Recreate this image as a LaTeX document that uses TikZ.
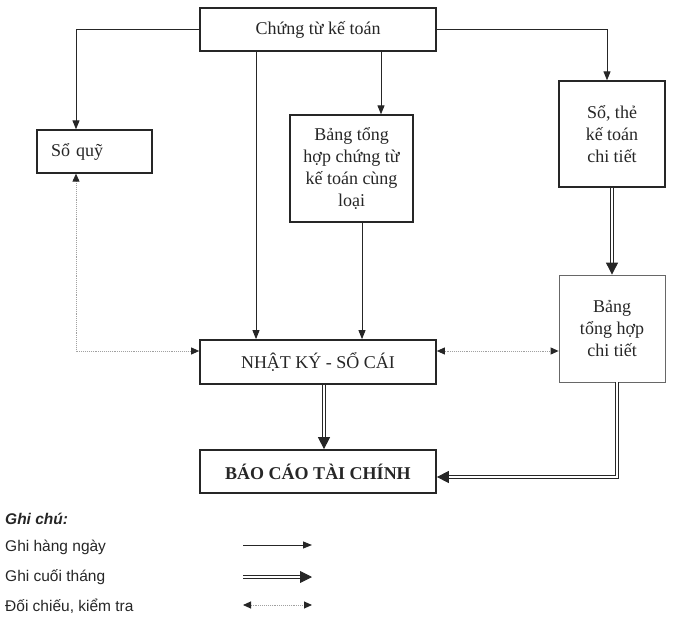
\documentclass[tikz,border=0pt]{standalone}
\usepackage{fontspec}
\setmainfont{Liberation Serif}
\newfontfamily\legendfont{Liberation Sans}
\usetikzlibrary{arrows.meta}
\definecolor{ink}{HTML}{262626}
\definecolor{dotgray}{HTML}{A0A0A0}
\tikzset{
  box/.style={draw=ink, line width=1.3pt, rectangle, inner sep=0pt, align=center,
    font=\fontsize{18}{22}\selectfont, text=ink},
  thinbox/.style={box, draw=ink!70, line width=0.8pt},
  daily/.style={draw=ink, line width=0.9pt, -{Triangle[length=9pt,width=7pt]}},
  monthly/.style={draw=ink, line width=0.9pt, double=white, double distance=1.6pt,
    -{Triangle[length=12pt,width=12pt]}},
  check/.style={draw=dotgray, line width=0.9pt, densely dotted,
    {Triangle[length=8pt,width=7pt,color=ink]}-{Triangle[length=8pt,width=7pt,color=ink]}},
  legtext/.style={anchor=west, inner sep=0pt, font=\legendfont\fontsize{15.5}{18}\selectfont, text=ink},
}
\begin{document}
\begin{tikzpicture}[x=1pt,y=-1pt]
\useasboundingbox (0,0) rectangle (688,626);
% nodes
\node[box, minimum width=236pt, minimum height=43pt] (ct) at (318,29.5) {Chứng từ kế toán};
\node[box, minimum width=115pt, minimum height=43pt, text width=87pt, align=left, inner xsep=14pt] (sq) at (94.5,151.5) {Sổ quỹ};
\node[box, minimum width=123pt, minimum height=107pt] (bt) at (351.5,168.5) {Bảng tổng\\hợp chứng từ\\kế toán cùng\\loại};
\node[box, minimum width=106pt, minimum height=106pt] (st) at (612,134) {Sổ, thẻ\\kế toán\\chi tiết};
\node[box, line width=1.7pt, minimum width=236pt, minimum height=44pt] (nk) at (318,362) {NHẬT KÝ - SỔ CÁI};
\node[thinbox, minimum width=106pt, minimum height=107pt] (bc) at (612,328.5) {Bảng\\tổng hợp\\chi tiết};
\node[box, line width=1.7pt, minimum width=236pt, minimum height=43pt, font=\fontsize{18}{22}\selectfont\bfseries] (tc) at (318,471.5) {BÁO CÁO TÀI CHÍNH};
% daily connectors
\draw[daily] (ct.west) -| ([xshift=-18.5pt]sq.north);
\draw[daily] (ct.east) -| ([xshift=-5pt]st.north);
\draw[daily] ([xshift=63pt]ct.south) -- ([xshift=63pt]ct.south |- bt.north);
\draw[daily] ([xshift=-62pt]ct.south) -- ([xshift=-62pt]nk.north);
\draw[daily] ([xshift=10.5pt]bt.south) -- ([xshift=10.5pt]bt.south |- nk.north);
% check connectors
\draw[check] ([xshift=-18.5pt]sq.south) |- ([yshift=11pt]nk.west);
\draw[check] ([yshift=11pt]nk.east) -- ([yshift=11pt]nk.east -| bc.west);
% monthly connectors
\draw[monthly] (st.south) -- (bc.north);
\draw[monthly] ([xshift=6pt]nk.south) -- ([xshift=6pt]tc.north);
\draw[monthly] ([xshift=5pt]bc.south) |- ([yshift=-5.5pt]tc.east);
% legend
\node[legtext, font=\legendfont\fontsize{15.5}{18}\selectfont\bfseries\itshape] (gc) at (5,519) {Ghi chú:};
\node[legtext] (l1) at (5,547) {Ghi hàng ngày};
\node[legtext] (l2) at (5,577) {Ghi cuối tháng};
\node[legtext] (l3) at (5,606) {Đối chiếu, kiểm tra};
\coordinate (a1s) at (243,545); \coordinate (a1e) at (312,545);
\coordinate (a2s) at (243,577); \coordinate (a2e) at (312,577);
\coordinate (a3s) at (243,605); \coordinate (a3e) at (312,605);
\draw[daily] (a1s) -- (a1e);
\draw[monthly] (a2s) -- (a2e);
\draw[check] (a3s) -- (a3e);
\end{tikzpicture}
\end{document}
